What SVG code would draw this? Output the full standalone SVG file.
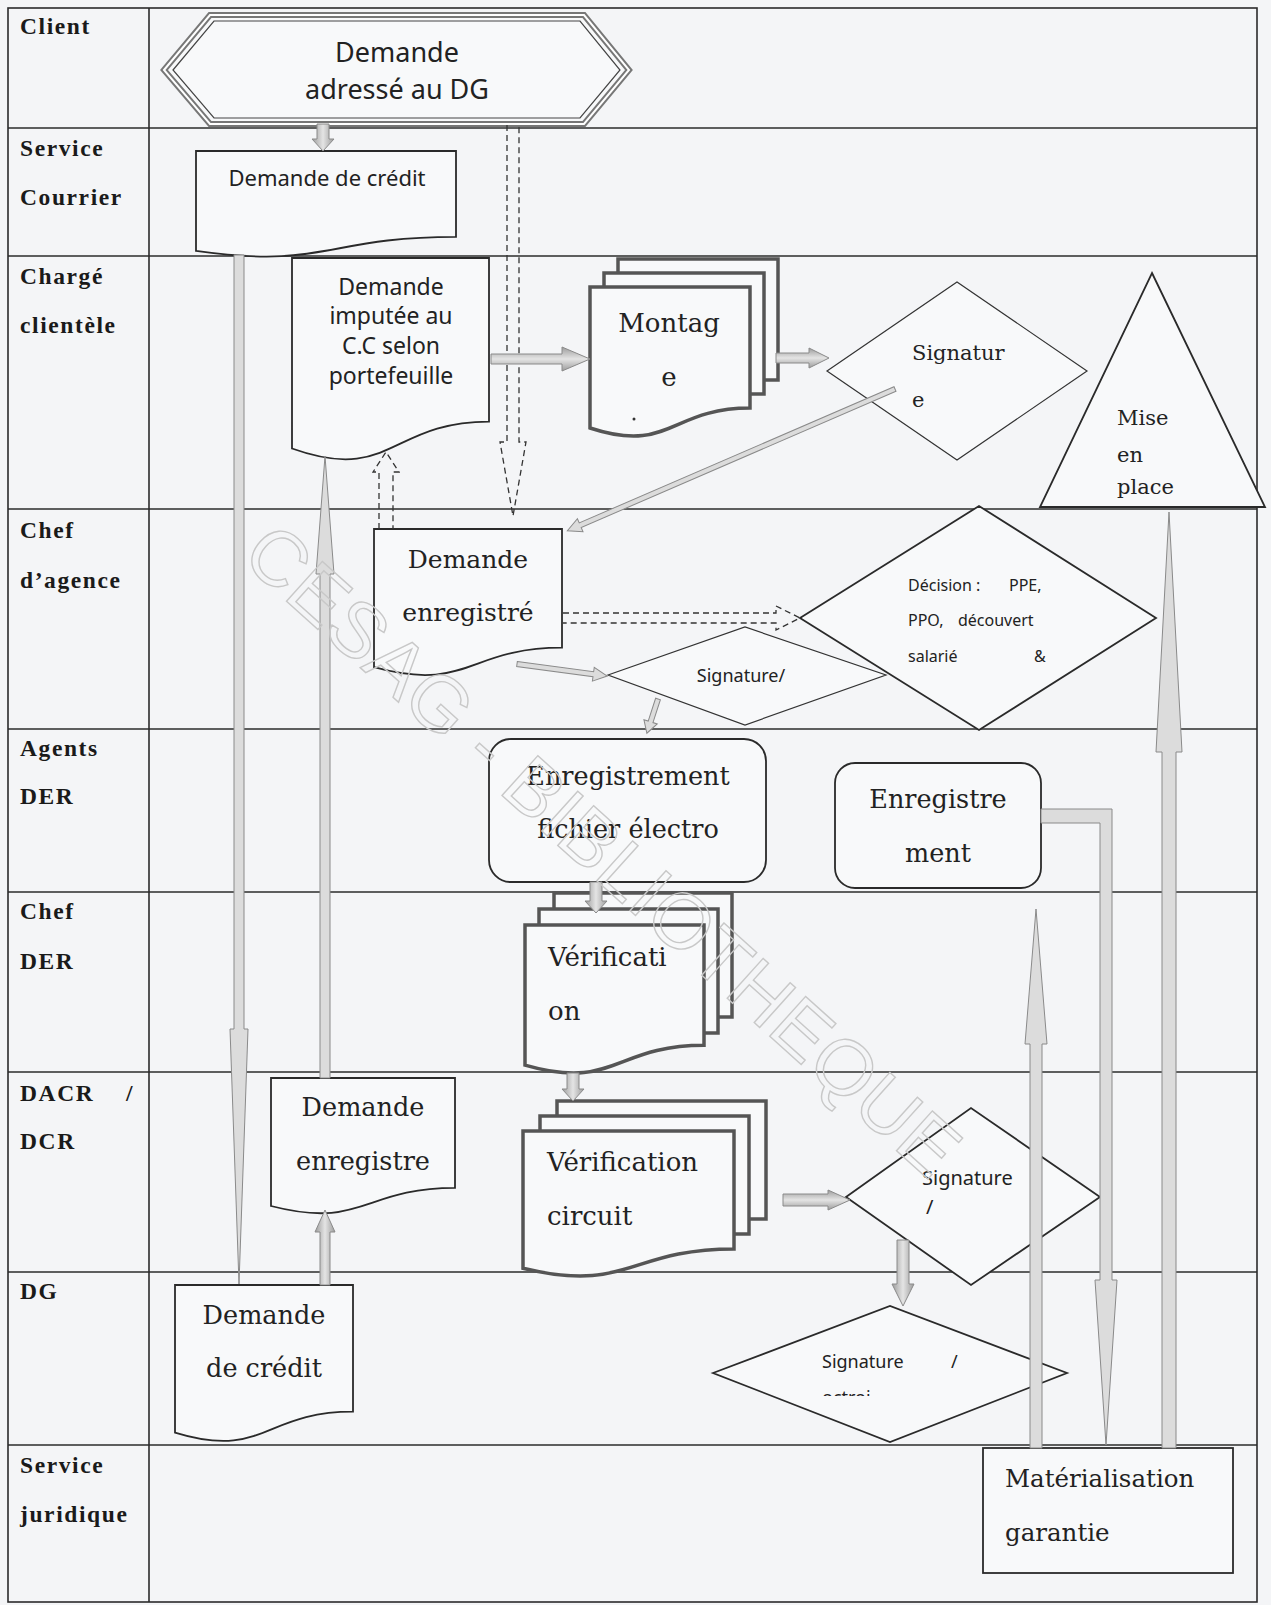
<svg xmlns="http://www.w3.org/2000/svg" width="1271" height="1605" viewBox="0 0 1271 1605">
<defs>
<linearGradient id="gv" x1="0" y1="0" x2="1" y2="0">
<stop offset="0" stop-color="#9c9c9c"/><stop offset="0.5" stop-color="#e4e4e4"/><stop offset="1" stop-color="#9c9c9c"/>
</linearGradient>
<linearGradient id="gh" x1="0" y1="0" x2="0" y2="1">
<stop offset="0" stop-color="#9c9c9c"/><stop offset="0.5" stop-color="#e4e4e4"/><stop offset="1" stop-color="#9c9c9c"/>
</linearGradient>
<clipPath id="octroiClip"><rect x="700" y="1300" width="400" height="96"/></clipPath>
</defs>
<style>
.lane{stroke:#2b2b2b;stroke-width:1.6;fill:none}
.lbl{font-family:"Liberation Serif",serif;font-weight:bold;font-size:23.5px;letter-spacing:1.6px;fill:#1a1a1a}
.sans{font-family:"Noto Sans","Liberation Sans",sans-serif;fill:#222}
.serif{font-family:"DejaVu Serif","Liberation Serif",serif;fill:#222}
.shape{fill:#f8f9fa;stroke:#2a2a2a;stroke-width:1.8}
.thin{fill:#f8f9fa;stroke:#333;stroke-width:1.2}
.multi{fill:#f8f9fa;stroke:#555;stroke-width:3.5}
.ba{fill:url(#gv);stroke:#8a8a8a;stroke-width:1}
.bah{fill:url(#gh);stroke:#8a8a8a;stroke-width:1}
.ta{fill:#dcdcdc;stroke:#8a8a8a;stroke-width:1}
.da{fill:none;stroke:#333;stroke-width:1.3;stroke-dasharray:6 4}
</style>
<rect x="0" y="0" width="1271" height="1605" fill="#f4f5f7"/>

<g id="lanes">
<rect x="8" y="8" width="1249" height="1594" class="lane"/>
<line x1="149" y1="8" x2="149" y2="1602" class="lane"/>
<line x1="8" y1="128" x2="1257" y2="128" class="lane"/>
<line x1="8" y1="256" x2="1257" y2="256" class="lane"/>
<line x1="8" y1="509" x2="1257" y2="509" class="lane"/>
<line x1="8" y1="729" x2="1257" y2="729" class="lane"/>
<line x1="8" y1="892" x2="1257" y2="892" class="lane"/>
<line x1="8" y1="1072" x2="1257" y2="1072" class="lane"/>
<line x1="8" y1="1272" x2="1257" y2="1272" class="lane"/>
<line x1="8" y1="1445" x2="1257" y2="1445" class="lane"/>
<text class="lbl" x="20" y="34">Client</text>
<text class="lbl" x="20" y="156">Service</text>
<text class="lbl" x="20" y="205">Courrier</text>
<text class="lbl" x="20" y="284">Chargé</text>
<text class="lbl" x="20" y="333">clientèle</text>
<text class="lbl" x="20" y="538">Chef</text>
<text class="lbl" x="20" y="588">d’agence</text>
<text class="lbl" x="20" y="756">Agents</text>
<text class="lbl" x="20" y="804">DER</text>
<text class="lbl" x="20" y="919">Chef</text>
<text class="lbl" x="20" y="969">DER</text>
<text class="lbl" x="20" y="1101">DACR</text>
<text class="lbl" x="126" y="1101">/</text>
<text class="lbl" x="20" y="1149">DCR</text>
<text class="lbl" x="20" y="1299">DG</text>
<text class="lbl" x="20" y="1473">Service</text>
<text class="lbl" x="20" y="1522">juridique</text>
</g>

<g id="n-demande-dg">
<polygon points="164,70 210,15 584,15 629,70 584,124 210,124" fill="#f8f9fa" stroke="#777" stroke-width="6"/>
<polygon points="164,70 210,15 584,15 629,70 584,124 210,124" fill="none" stroke="#fff" stroke-width="2"/>
<polygon points="173,70 214,21 580,21 620,70 580,118 214,118" fill="none" stroke="#444" stroke-width="1.2"/>
<text class="sans" x="397" y="62" font-size="27" text-anchor="middle">Demande</text>
<text class="sans" x="397" y="99" font-size="27" text-anchor="middle">adressé au DG</text>
</g>

<g id="n-sc-demande">
<path class="shape" d="M196,151 H456 V236.8 C326,236.8 326,269.4 196,250.9 Z"/>
<text class="sans" x="327" y="186" font-size="22" text-anchor="middle">Demande de crédit</text>
</g>

<g id="n-imputee">
<path class="shape" d="M292,258 H489 V421.6 C390.5,421.6 390.5,483.8 292,448.5 Z"/>
<text class="sans" x="391" y="295" font-size="23" text-anchor="middle">Demande</text>
<text class="sans" x="391" y="324" font-size="23" text-anchor="middle">imputée au</text>
<text class="sans" x="391" y="354" font-size="23" text-anchor="middle">C.C selon</text>
<text class="sans" x="391" y="384" font-size="23" text-anchor="middle">portefeuille</text>
</g>

<g id="n-montage">
<polyline class="multi" points="618,273 618,259 778,259 778,380 764,380"/>
<polyline class="multi" points="604,287 604,273 764,273 764,394 750,394"/>
<path class="multi" d="M590,287 H750 V408.1 C670,408.1 670,454.2 590,428 Z"/>
<text class="serif" x="669" y="332" font-size="26" text-anchor="middle">Montag</text>
<text class="serif" x="669" y="386" font-size="26" text-anchor="middle">e</text>
<circle cx="634" cy="419" r="1.5" fill="#333"/>
</g>

<g id="n-signature-cc">
<polygon class="thin" points="827,371 957,282 1087,371 957,460"/>
<text class="serif" x="912" y="360" font-size="21">Signatur</text>
<text class="serif" x="912" y="407" font-size="21">e</text>
</g>

<g id="n-mise-en-place">
<polygon class="shape" points="1152,273 1265,507 1040,507" stroke-width="1.5"/>
<text class="serif" x="1117" y="425" font-size="21">Mise</text>
<text class="serif" x="1117" y="462" font-size="21">en</text>
<text class="serif" x="1117" y="494" font-size="21">place</text>
</g>

<g id="n-demande-enregistre-ca">
<path class="shape" d="M374,529 H562 V647.7 C468,647.7 468,692.8 374,667.2 Z"/>
<text class="serif" x="468" y="568" font-size="25" text-anchor="middle">Demande</text>
<text class="serif" x="468" y="621" font-size="25" text-anchor="middle">enregistré</text>
</g>

<g id="n-decision">
<polygon class="shape" points="800,618 979,506 1156,618 979,730" stroke-width="2.5"/>
<text class="sans" font-size="16" x="908" y="591">Décision :</text>
<text class="sans" font-size="16" x="1009" y="591">PPE,</text>
<text class="sans" font-size="16" x="908" y="626">PPO,</text>
<text class="sans" font-size="16" x="958" y="626">découvert</text>
<text class="sans" font-size="16" x="908" y="662">salarié</text>
<text class="sans" font-size="16" x="1034" y="662">&amp;</text>
</g>

<g id="n-signature-ca">
<polygon class="thin" points="608,675 745,627 886,675 745,725"/>
<text class="sans" x="741" y="682" font-size="18" text-anchor="middle">Signature/</text>
</g>

<g id="n-enregistrement-fichier">
<rect class="shape" x="489" y="739" width="277" height="143" rx="22"/>
<text class="serif" x="628" y="785" font-size="25.5" text-anchor="middle">Enregistrement</text>
<text class="serif" x="628" y="838" font-size="25.5" text-anchor="middle">fichier électro</text>
</g>

<g id="n-enregistrement">
<rect class="shape" x="835" y="763" width="206" height="125" rx="20"/>
<text class="serif" x="938" y="808" font-size="25.5" text-anchor="middle">Enregistre</text>
<text class="serif" x="938" y="862" font-size="25.5" text-anchor="middle">ment</text>
</g>

<g id="n-verification">
<polyline class="multi" points="554,909 554,893 732,893 732,1017 718,1017"/>
<polyline class="multi" points="539,925 539,909 718,909 718,1033 704,1033"/>
<path class="multi" d="M525,925 H704 V1045.3 C614.5,1045.3 614.5,1091 525,1065.1 Z"/>
<text class="serif" x="548" y="966" font-size="26">Vérificati</text>
<text class="serif" x="548" y="1020" font-size="26">on</text>
</g>

<g id="n-demande-enregistre-dacr">
<path class="shape" d="M271,1078 H455 V1187.9 C363,1187.9 363,1229.7 271,1206 Z"/>
<text class="serif" x="363" y="1116" font-size="25.5" text-anchor="middle">Demande</text>
<text class="serif" x="363" y="1170" font-size="25.5" text-anchor="middle">enregistre</text>
</g>

<g id="n-verification-circuit">
<polyline class="multi" points="557,1116 557,1101 766,1101 766,1219 749,1219"/>
<polyline class="multi" points="540,1131 540,1116 749,1116 749,1234 734,1234"/>
<path class="multi" d="M523,1131 H734 V1248.9 C628.5,1248.9 628.5,1293.7 523,1268.3 Z"/>
<text class="serif" x="547" y="1171" font-size="26">Vérification</text>
<text class="serif" x="547" y="1225" font-size="26">circuit</text>
</g>

<g id="n-signature-dacr">
<polygon class="shape" points="846,1197 971,1108 1100,1197 971,1285" stroke-width="2"/>
<text class="sans" x="922" y="1185" font-size="20">Signature</text>
<text class="sans" x="926" y="1214" font-size="20">/</text>
</g>

<g id="n-demande-credit-dg">
<path class="shape" d="M175,1285 H353 V1411.7 C264,1411.7 264,1459.9 175,1432.6 Z"/>
<text class="serif" x="264" y="1324" font-size="25.5" text-anchor="middle">Demande</text>
<text class="serif" x="264" y="1377" font-size="25.5" text-anchor="middle">de crédit</text>
</g>

<g id="n-signature-octroi">
<polygon class="shape" points="713,1373 890,1306 1067,1373 890,1442" stroke-width="2"/>
<text class="sans" x="822" y="1368" font-size="18">Signature</text>
<text class="sans" x="951" y="1368" font-size="18">/</text>
<text class="sans" x="822" y="1404" font-size="18" clip-path="url(#octroiClip)">octroi</text>
</g>

<g id="n-materialisation">
<rect class="shape" x="983" y="1448" width="250" height="125"/>
<text class="serif" x="1005" y="1487" font-size="24.5">Matérialisation</text>
<text class="serif" x="1005" y="1541" font-size="24.5">garantie</text>
</g>

<g id="connectors">
<polyline class="da" points="507,125 507,442 500,442 513,516 526,442 519,442 519,125"/>
<polyline class="da" points="379,529 379,472 373,472 386,452 399,472 393,472 393,529"/>
<polyline class="da" points="563,613 776,613 776,606 800,618 776,630 776,623 563,623"/>
<polygon class="ba" points="317,124 329,124 329,139 334,139 323,151 312,139 317,139"/>
<polygon class="bah" points="491,354 562,354 562,347 590,359 562,371 562,364 491,364"/>
<polygon class="bah" points="776,353 809,353 809,348 829,358 809,368 809,363 776,363"/>
<polygon class="ba" points="590,882 602,882 602,901 607,901 596,913 585,901 590,901"/>
<polygon class="ba" points="567,1073 579,1073 579,1089 584,1089 573,1101 562,1089 567,1089"/>
<polygon class="bah" points="783,1194 828,1194 828,1190 850,1200 828,1210 828,1206 783,1206"/>
<polygon class="ba" points="897,1240 909,1240 909,1284 914,1284 903,1306 892,1284 897,1284"/>
<polygon class="ba" points="320,1285 330,1285 330,1232 335,1232 325,1210 315,1232 320,1232"/>
<polygon class="ta" points="234,255 244,255 244,1029 248,1029 239,1284 230,1029 234,1029"/>
<polygon class="ta" points="320,1078 330,1078 330,574 334,574 325,456 316,574 320,574"/>
<polygon class="ta" points="1041,809 1112,809 1112,1280 1117,1280 1106,1445 1095,1280 1100,1280 1100,823 1041,823"/>
<polygon class="ta" points="1030,1448 1042,1448 1042,1044 1047,1044 1036,909 1025,1044 1030,1044"/>
<polygon class="ta" points="1162,1448 1176,1448 1176,752 1182,752 1169,512 1156,752 1162,752"/>
<polygon class="ta" transform="translate(895,389) rotate(156.6)" points="0,-2.5 343,-2.5 343,-7 357,0 343,7 343,2.5 0,2.5"/>
<polygon class="ta" transform="translate(517,664) rotate(7.6)" points="0,-2.5 77,-2.5 77,-7 91,0 77,7 77,2.5 0,2.5"/>
<polygon class="ta" transform="translate(658,699) rotate(108)" points="0,-2.5 24,-2.5 24,-7 36,0 24,7 24,2.5 0,2.5"/>
</g>

<g id="watermark">
<text x="0" y="0" transform="translate(603,850) rotate(42)" text-anchor="middle" dominant-baseline="central" font-family="Liberation Sans, sans-serif" font-size="78" fill="none" stroke="#c8c8c8" stroke-width="1.4" textLength="930" lengthAdjust="spacing">CESAG - BIBLIOTHEQUE</text>
</g>
</svg>
